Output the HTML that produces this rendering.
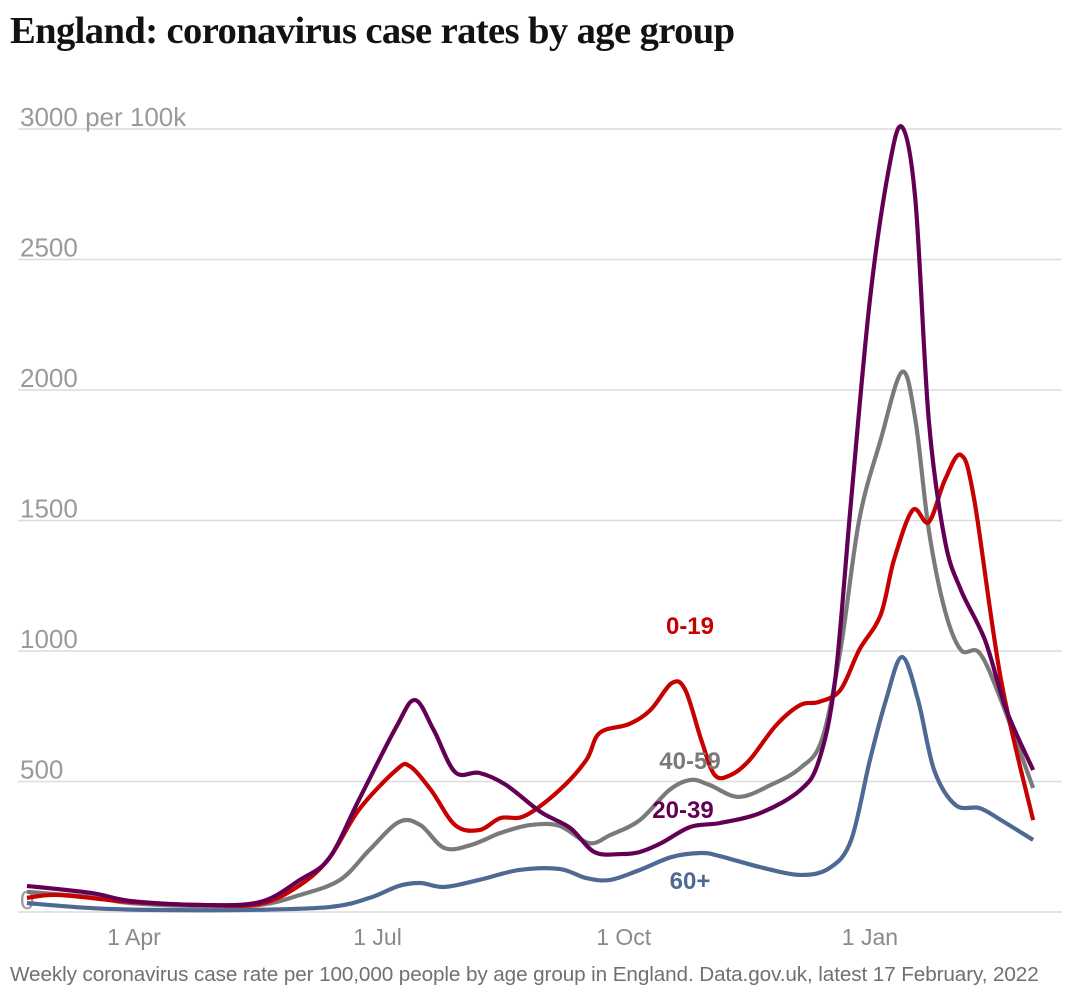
<!DOCTYPE html>
<html><head><meta charset="utf-8"><style>
body{margin:0;background:#fff;width:1080px;height:1003px;overflow:hidden;font-family:"Liberation Sans",sans-serif}
h1{position:absolute;left:10px;top:9px;margin:0;font-family:"Liberation Serif",serif;font-weight:bold;font-size:38.6px;letter-spacing:-0.6px;color:#121212;white-space:nowrap}
#foot{position:absolute;left:10px;top:963px;font-size:20.7px;color:#707070;white-space:nowrap;letter-spacing:-0.1px}
svg{position:absolute;left:0;top:0}
</style></head><body>
<h1>England: coronavirus case rates by age group</h1>
<svg id="chart" width="1080" height="1003"></svg>
<div id="foot">Weekly coronavirus case rate per 100,000 people by age group in England. Data.gov.uk, latest 17 February, 2022</div>
<script>
// days since 1 Apr 2021
const purpleDays=[-40,-16,-1,25,47,62,73,84,98,105,112,120,129,139,152,163,172,182,189,197,208,219,234,249,256,262,268,275,282,287,292,297,303,309,318,326,336];
const purpleVals=[100,73,42,27,38,123,207,429,709,812,697,536,533,487,383,322,230,222,230,264,326,341,379,467,582,889,1579,2345,2843,3008,2728,1885,1425,1234,1042,774,544];
const redDays=[-40,-28,-1,25,47,62,73,84,98,103,111,120,129,137,146,159,169,174,185,193,201,206,212,217,223,230,240,249,256,264,271,279,284,291,297,303,309,314,324,336];
const redVals=[54,65,38,27,31,103,207,391,544,559,467,333,314,360,368,467,582,686,720,774,877,851,659,525,525,582,716,793,805,851,1004,1138,1349,1540,1494,1655,1751,1579,889,352];
const grayDays=[-40,-16,-1,25,47,62,77,88,99,107,116,126,137,148,159,170,178,189,200,208,215,226,238,249,257,264,271,279,287,292,297,303,309,316,324,336];
const grayVals=[77,57,34,23,27,65,123,238,345,333,245,257,303,333,330,264,295,352,467,506,487,441,487,552,659,1004,1502,1808,2069,1885,1464,1157,1004,992,812,475];
const blueDays=[-40,-16,6,43,73,88,99,107,116,129,144,159,169,178,189,201,212,219,234,249,260,268,275,281,287,293,299,307,316,324,336];
const blueVals=[34,15,8,8,19,54,100,111,96,123,161,165,130,123,161,211,226,214,172,142,169,276,582,812,977,812,544,410,398,352,276];
const yTicks=[0,500,1000,1500,2000,2500,3000];
const yTickLabels=["0","500","1000","1500","2000","2500","3000 per 100k"];
const xTickDays=[0,91,183,275];
const xTickLabels=["1 Apr","1 Jul","1 Oct","1 Jan"];
const series=[
 {name:"60-plus",days:blueDays,vals:blueVals,color:"#4e6a94"},
 {name:"40-59",days:grayDays,vals:grayVals,color:"#7a7a7a"},
 {name:"0-19",days:redDays,vals:redVals,color:"#c70000"},
 {name:"20-39",days:purpleDays,vals:purpleVals,color:"#630056"}
];
const NS="http://www.w3.org/2000/svg";
const svg=document.getElementById('chart');
const X=d=>134+d*2.676;
const Y=v=>912-v*0.261;
function mk(t,a){const e=document.createElementNS(NS,t);for(const k in a)e.setAttribute(k,a[k]);svg.appendChild(e);return e;}
yTicks.forEach((v,i)=>{
 const l=mk('line',{x1:18,x2:1062,y1:Y(v),y2:Y(v),stroke:'#dcdcdc','stroke-width':1.5});
 
 
 const t=mk('text',{x:20,y:Y(v)-3,'font-size':26,fill:'#9a9a9a','font-family':'Liberation Sans, sans-serif'});
 t.textContent=yTickLabels[i];
 
 
});
xTickDays.forEach((d,i)=>{
 const t=mk('text',{x:X(d),y:945,'font-size':23,fill:'#8a8a8a','text-anchor':'middle','font-family':'Liberation Sans, sans-serif'});
 t.textContent=xTickLabels[i];
 
 
});
function pathFor(days,vals){
 const p=days.map((d,i)=>[X(d),Y(vals[i])]);
 let s='M'+p[0][0]+','+p[0][1];
 for(let i=0;i<p.length-1;i++){
  const p0=p[i-1]||p[i],p1=p[i],p2=p[i+1],p3=p[i+2]||p2;
  const c1=[p1[0]+(p2[0]-p0[0])/6,p1[1]+(p2[1]-p0[1])/6];
  const c2=[p2[0]-(p3[0]-p1[0])/6,p2[1]-(p3[1]-p1[1])/6];
  s+=`C${c1[0]},${c1[1]} ${c2[0]},${c2[1]} ${p2[0]},${p2[1]}`;
 }
 return s;
}
series.forEach(s=>{
 const e=mk('path',{d:pathFor(s.days,s.vals),fill:'none',stroke:s.color,'stroke-width':4.2,'stroke-linejoin':'round'});
 
 
});
const labels=[["0-19",690,634,"#c70000"],["40-59",690,769,"#7a7a7a"],["20-39",683,818,"#630056"],["60+",690,889,"#4e6a94"]];
labels.forEach(l=>{
 const t=mk('text',{x:l[1],y:l[2],'font-size':24,'font-weight':'bold',fill:l[3],'text-anchor':'middle','font-family':'Liberation Sans, sans-serif'});
 t.textContent=l[0];
 
 
});
</script>
</body></html>
